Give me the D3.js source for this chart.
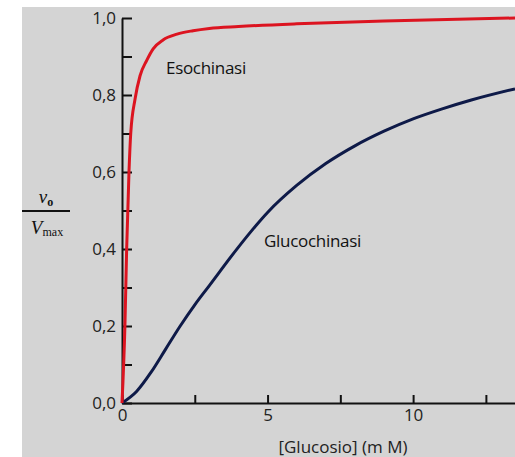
<!DOCTYPE html>
<html>
<head>
<meta charset="utf-8">
<script src="https://cdn.jsdelivr.net/npm/d3@7"></script>
<style>
  body { margin: 0; background: #fff; }
  .axis path, .axis line { stroke: #111; stroke-width: 2px; }
  .axis text { font-family: "Open Sans", sans-serif; font-size: 17px; fill: #222; }
</style>
</head>
<body>
<div id="chart"></div>
<script>
// hexokinase (Esochinasi) curve: [glucose mM, v0/Vmax]
var esoX = [0, 0.10, 0.16, 0.24, 0.30, 0.45, 0.62, 0.85, 1.07, 1.41, 1.89, 2.44, 3.0, 4.0, 6.0, 9.0, 13.5];
var esoY = [0, 0.20, 0.40, 0.60, 0.70, 0.79, 0.85, 0.89, 0.92, 0.943, 0.958, 0.967, 0.973, 0.978, 0.985, 0.992, 1.0];
// glucokinase (Glucochinasi) curve
var glucoX = [0, 0.5, 1, 1.5, 2, 2.5, 3, 4, 5, 6, 7, 8, 9, 10, 11, 12, 13.5];
var glucoY = [0, 0.03, 0.08, 0.14, 0.20, 0.255, 0.305, 0.405, 0.495, 0.565, 0.622, 0.668, 0.706, 0.738, 0.764, 0.787, 0.816];

var xTicks = [0, 2.5, 5, 7.5, 10, 12.5];
var xLabels = {0: "0", 5: "5", 10: "10"};
var yTicks = [0, 0.1, 0.2, 0.3, 0.4, 0.5, 0.6, 0.7, 0.8, 0.9, 1.0];
var yLabels = {0: "0,0", 0.2: "0,2", 0.4: "0,4", 0.6: "0,6", 0.8: "0,8", 1: "1,0"};

var W = 515, H = 457;
var margin = {top: 18, right: 0, bottom: 54, left: 122};

var svg = d3.select("#chart").append("svg")
    .attr("width", W)
    .attr("height", H);

// gray panel
svg.append("rect")
    .attr("x", 22).attr("y", 7)
    .attr("width", W - 22).attr("height", H - 7)
    .attr("fill", "#d4d4d4");

var x = d3.scaleLinear().domain([0, 13.5]).range([margin.left, W - margin.right]);
var y = d3.scaleLinear().domain([0, 1]).range([H - margin.bottom, margin.top]);

// axes
svg.append("g")
    .attr("class", "axis")
    .attr("transform", "translate(0," + y(0) + ")")
    .call(d3.axisBottom(x)
        .tickValues(xTicks)
        .tickSizeInner(-8)
        .tickSizeOuter(0)
        .tickPadding(6)
        .tickFormat(function(d) { return xLabels[d] || ""; }));

svg.append("g")
    .attr("class", "axis")
    .attr("transform", "translate(" + x(0) + ",0)")
    .call(d3.axisLeft(y)
        .tickValues(yTicks)
        .tickSizeInner(-10)
        .tickSizeOuter(0)
        .tickPadding(6)
        .tickFormat(function(d) { return yLabels[Math.round(d * 10) / 10] || ""; }));

// curves
var line = d3.line()
    .x(function(d) { return x(d[0]); })
    .y(function(d) { return y(d[1]); })
    .curve(d3.curveMonotoneX);

svg.append("path")
    .datum(glucoX.map(function(v, i) { return [v, glucoY[i]]; }))
    .attr("d", line)
    .attr("fill", "none")
    .attr("stroke", "#0e1a48")
    .attr("stroke-width", 3);

svg.append("path")
    .datum(esoX.map(function(v, i) { return [v, esoY[i]]; }))
    .attr("d", line)
    .attr("fill", "none")
    .attr("stroke", "#dc1420")
    .attr("stroke-width", 3);

// curve labels
svg.append("text")
    .attr("x", 166).attr("y", 74)
    .style("font-family", "Open Sans, sans-serif")
    .style("font-size", "17px")
    .style("letter-spacing", "-0.3px")
    .style("fill", "#111")
    .text("Esochinasi");

svg.append("text")
    .attr("x", 264).attr("y", 247)
    .style("font-family", "Open Sans, sans-serif")
    .style("font-size", "17px")
    .style("letter-spacing", "-0.3px")
    .style("fill", "#111")
    .text("Glucochinasi");

// x label
svg.append("text")
    .attr("x", 343).attr("y", 453)
    .attr("text-anchor", "middle")
    .style("font-family", "Open Sans, sans-serif")
    .style("font-size", "17px")
    .style("fill", "#222")
    .text("[Glucosio] (m M)");

// y label as fraction v0 / Vmax
var frac = svg.append("g")
    .style("font-family", "Liberation Serif, serif")
    .style("fill", "#111");

var num = frac.append("text")
    .attr("x", 46).attr("y", 203)
    .attr("text-anchor", "middle");
num.append("tspan").style("font-style", "italic").style("font-size", "19px").text("v");
num.append("tspan").attr("dy", 3).style("font-size", "12px").style("font-weight", "bold").text("o");

frac.append("line")
    .attr("x1", 22).attr("x2", 70)
    .attr("y1", 211).attr("y2", 211)
    .attr("stroke", "#111")
    .attr("stroke-width", 2);

var den = frac.append("text")
    .attr("x", 47).attr("y", 234)
    .attr("text-anchor", "middle");
den.append("tspan").style("font-style", "italic").style("font-size", "19px").text("V");
den.append("tspan").attr("dy", 2).style("font-size", "12px").text("max");
</script>
</body>
</html>
